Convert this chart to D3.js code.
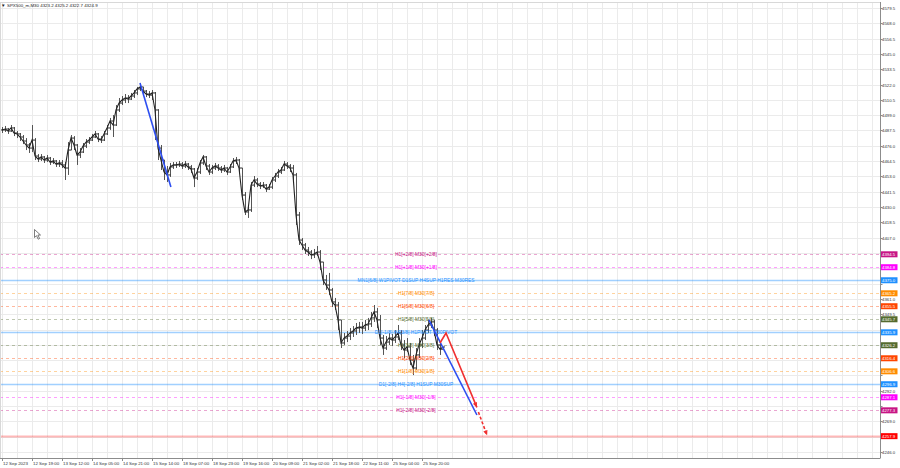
<!DOCTYPE html>
<html><head><meta charset="utf-8">
<script src="https://cdn.jsdelivr.net/npm/d3@7"></script>
<style>body{margin:0;background:#fff}svg{display:block}text{font-family:"Liberation Sans",Arial,sans-serif}</style>
</head><body>
<svg id="c" width="900" height="468"></svg>
<script>
// ---- data ----
const symbolTitle = "SPX500_m,M30  4323.2 4325.2 4322.7 4324.9";
const closes = [
4487.9,4488.6,4487.1,4489.4,4485.6,4484.9,4482.6,4479.6,4476.6,4474.3,
4480.3,4468.3,4466.1,4467.6,4465.3,4466.8,4463.8,4464.6,4462.3,4463.1,
4461.6,4459.3,4472.8,4481.8,4476.6,4469.1,4471.3,4475.8,4478.8,4480.3,
4482.6,4484.9,4481.1,4480.3,4484.9,4489.4,4494.6,4491.6,4502.9,4508.1,
4510.4,4511.9,4511.1,4513.4,4515.7,4518.7,4520.2,4517.1,4514.9,4514.1,
4515.7,4502.9,4474.3,4465.3,4456.3,4454.1,4460.1,4461.6,4461.6,4462.3,
4460.8,4462.3,4460.1,4458.6,4451.8,4456.3,4463.1,4467.6,4460.8,4456.3,
4459.3,4460.8,4459.3,4457.8,4459.3,4456.3,4460.1,4464.6,4465.3,4459.3,
4439.0,4426.3,4427.8,4446.5,4450.3,4447.3,4445.8,4446.5,4443.5,4445.0,
4450.3,4453.3,4456.3,4457.8,4462.3,4460.8,4459.3,4454.1,4424.0,4405.2,
4401.5,4397.7,4396.2,4394.0,4394.7,4396.2,4388.7,4375.2,4371.4,4367.7,
4358.7,4356.4,4345.2,4327.9,4331.6,4333.1,4335.4,4336.9,4339.1,4339.9,
4339.1,4341.4,4342.2,4346.7,4351.2,4345.2,4331.6,4324.1,4328.6,4331.6,
4330.1,4332.4,4335.4,4326.4,4322.6,4324.9,4315.1,4309.1,4318.9,4326.4,
4331.6,4337.6,4341.4,4343.7,4337.6,4326.4,4323.2,4324.9];
const highs = [
4490.1,4490.9,4489.4,4491.6,4490.1,4487.1,4485.6,4484.1,4481.8,4478.1,
4491.6,4481.8,4469.8,4469.8,4468.3,4469.1,4467.6,4466.8,4465.3,4465.3,
4465.3,4463.8,4478.8,4484.1,4483.3,4477.3,4474.3,4478.1,4481.1,4482.6,
4484.9,4487.1,4485.6,4483.3,4487.1,4491.6,4496.9,4499.1,4506.6,4511.9,
4513.4,4514.9,4514.1,4515.7,4517.9,4520.2,4523.2,4520.2,4517.9,4517.1,
4517.9,4516.4,4503.5,4476.6,4465.3,4460.8,4463.1,4463.8,4463.8,4464.6,
4463.8,4464.6,4463.1,4461.6,4459.3,4459.3,4465.3,4469.1,4468.3,4462.3,
4461.6,4463.1,4462.3,4460.8,4461.6,4460.1,4462.3,4466.8,4467.6,4466.1,
4459.3,4441.3,4431.5,4448.8,4453.3,4451.8,4448.8,4448.8,4447.3,4447.3,
4452.6,4455.6,4458.6,4460.1,4464.6,4463.8,4462.3,4461.6,4455.6,4426.3,
4406.7,4403.0,4400.0,4397.7,4398.5,4400.7,4397.7,4388.7,4379.0,4380.5,
4369.2,4361.7,4358.7,4345.2,4335.4,4336.9,4339.1,4340.6,4342.9,4343.7,
4343.7,4345.2,4346.7,4351.2,4356.4,4354.2,4348.9,4333.9,4333.1,4335.4,
4334.6,4337.6,4341.4,4337.6,4330.1,4331.6,4327.9,4318.9,4324.1,4331.6,
4337.6,4341.4,4345.2,4346.7,4345.2,4339.1,4328.6,4325.2];
const lows = [
4485.6,4486.4,4484.9,4486.4,4483.3,4481.8,4479.6,4477.3,4472.8,4470.6,
4471.3,4465.3,4463.8,4464.6,4463.1,4463.8,4461.6,4462.3,4460.1,4460.1,
4459.3,4450.3,4454.1,4472.8,4472.8,4461.6,4466.8,4470.6,4474.3,4477.3,
4479.6,4481.8,4478.8,4478.1,4479.6,4484.1,4487.9,4482.6,4490.9,4501.4,
4506.6,4508.1,4508.1,4510.4,4511.9,4514.1,4517.1,4514.9,4512.6,4511.9,
4510.4,4480.3,4465.3,4457.8,4450.3,4448.8,4452.6,4458.6,4459.3,4460.1,
4458.6,4459.3,4457.8,4455.6,4445.0,4450.3,4454.8,4461.6,4457.8,4454.1,
4454.8,4457.8,4457.1,4455.6,4456.3,4454.1,4455.6,4459.3,4462.3,4456.3,
4435.3,4424.0,4421.8,4426.3,4445.0,4445.0,4443.5,4444.3,4441.3,4442.8,
4443.5,4448.8,4451.8,4454.8,4457.1,4458.6,4456.3,4450.3,4416.5,4401.5,
4397.7,4394.7,4393.2,4390.9,4391.7,4393.2,4382.7,4371.4,4367.7,4363.9,
4354.9,4352.7,4337.6,4324.1,4326.4,4328.6,4330.1,4332.4,4333.9,4335.4,
4334.6,4336.9,4337.6,4339.9,4343.7,4339.1,4326.4,4318.9,4322.6,4326.4,
4325.6,4327.9,4330.1,4322.6,4316.6,4321.1,4311.3,4303.8,4307.6,4316.6,
4324.1,4330.1,4335.4,4339.1,4333.1,4322.6,4318.9,4322.7];

const timeLabels = ["12 Sep 2023","12 Sep 19:00","13 Sep 12:00","14 Sep 05:00","14 Sep 21:00",
"15 Sep 14:00","18 Sep 07:00","18 Sep 23:00","19 Sep 16:00","20 Sep 09:00","21 Sep 02:00",
"21 Sep 18:00","22 Sep 11:00","25 Sep 04:00","25 Sep 20:00"];
const timeLabelIndex = [0,10,20,30,40,50,60,70,80,90,100,110,120,130,140];

const priceTicks = [4246.0,4257.5,4269.0,4280.5,4292.0,4303.5,4315.0,4326.5,4338.0,4349.5,
4361.0,4372.5,4384.0,4395.5,4407.0,4418.5,4430.0,4441.5,4453.0,4464.5,4476.0,4487.5,
4499.0,4510.5,4522.0,4533.5,4545.0,4556.5,4568.0,4579.5];

const levelValues = [4394.5,4384.8,4375.0,4365.2,4355.5,4345.7,4335.9,4326.2,4316.4,4306.6,4296.9,4287.1,4277.3,4257.9];
const levelNames = ["H1[+2/8] M30[+2/8]","H1[+1/8] M30[+1/8]","MN1[6/8] W1PIVOT D1SUP H4SUP H1RES M30RES",
"H1[7/8] M30[7/8]","H1[6/8] M30[6/8]","H1[5/8] M30[5/8]","D1[-1/8] H4[3/8] H1PIVOT M30PIVOT",
"H1[3/8] M30[3/8]","H1[2/8] M30[2/8]","H1[1/8] M30[1/8]","D1[-2/8] H4[-2/8] H1SUP M30SUP",
"H1[-1/8] M30[-1/8]","H1[-2/8] M30[-2/8]",""];
const levelColors = ["#c71585","#ff00ff","#1e90ff","#ff8c00","#ff4500","#556b2f","#1e90ff",
"#556b2f","#ff4500","#ff8c00","#1e90ff","#ff00ff","#c71585","#ff0000"];
const levelSolid = [false,false,true,false,false,false,true,false,false,false,true,false,false,true];

// trend lines: [index, price]
const blueLine1 = [[46,4523.2],[56.3,4445.0]];
const blueLine2 = [[142.3,4345.2],[158.3,4273.8]];
const redPath = [[146,4327.9],[148,4335.4],[158.3,4279.5]];
const redDashed = [[158.8,4276.0],[161.7,4258.5]];

// ---- drawing ----
const plotR=880, plotB=458, plotT=2;
const svg=d3.select("#c");
const x=d3.scaleLinear().domain([0,292.67]).range([2,880]);
const y=d3.scaleLinear().domain([4579.5,4246.0]).range([8,452]);

// grid
const g=svg.append("g");
const vIdx=d3.range(0,293,5);
g.selectAll("line.v").data(vIdx).join("line")
 .attr("x1",d=>Math.round(x(d))+0.5).attr("x2",d=>Math.round(x(d))+0.5)
 .attr("y1",plotT).attr("y2",plotB).attr("stroke","#ebebeb").attr("stroke-width",1);
g.selectAll("line.h").data(priceTicks).join("line")
 .attr("x1",0).attr("x2",plotR).attr("y1",d=>Math.round(y(d))+0.5).attr("y2",d=>Math.round(y(d))+0.5)
 .attr("stroke","#ebebeb").attr("stroke-width",1);

// level lines
const lv=svg.append("g");
levelValues.forEach((v,i)=>{
  const yy=Math.round(y(v))+0.5;
  const ln=lv.append("line").attr("x1",0).attr("x2",plotR).attr("y1",yy).attr("y2",yy)
    .attr("stroke",levelColors[i]);
  if(levelSolid[i]){ ln.attr("stroke-width",i===13?2:1.6).attr("stroke-opacity",i===13?0.28:0.42);}
  else { ln.attr("stroke-width",1).attr("stroke-opacity",0.38).attr("stroke-dasharray","3,3");}
});

// bars
const bars=svg.append("g").attr("stroke","#2b2b2b").attr("stroke-width",1);
closes.forEach((c,i)=>{
  const xx=Math.round(x(i))+0.5;
  const o=i>0?closes[i-1]:c;
  bars.append("line").attr("x1",xx).attr("x2",xx).attr("y1",y(highs[i])).attr("y2",y(lows[i])).attr("stroke","#555");
  bars.append("line").attr("x1",xx-1.5).attr("x2",xx).attr("y1",y(o)).attr("y2",y(o));
  bars.append("line").attr("x1",xx).attr("x2",xx+1.5).attr("y1",y(c)).attr("y2",y(c));
});
svg.append("path").datum(closes).attr("fill","none").attr("stroke","#222").attr("stroke-width",1.1)
 .attr("d",d3.line().x((d,i)=>x(i)).y(d=>y(d)));

// level texts
const lt=svg.append("g").attr("font-size",4.9).attr("text-anchor","middle");
levelValues.forEach((v,i)=>{
  if(!levelNames[i]) return;
  lt.append("text").attr("x",416).attr("y",y(v)+1.8).attr("fill",levelColors[i]).text(levelNames[i]);
});

// trend lines
const ln=d3.line().x(d=>x(d[0])).y(d=>y(d[1]));
svg.append("path").datum(blueLine1).attr("d",ln).attr("stroke","#2d4ef0").attr("stroke-width",1.6).attr("fill","none");
svg.append("path").datum(blueLine2).attr("d",ln).attr("stroke","#2d4ef0").attr("stroke-width",1.6).attr("fill","none");
svg.append("path").datum(redPath).attr("d",ln).attr("stroke","#f03030").attr("stroke-width",1.6).attr("fill","none");
svg.append("path").datum(redDashed).attr("d",ln).attr("stroke","#f03030").attr("stroke-width",1.6).attr("fill","none").attr("stroke-dasharray","3,2");
function arrow(p0,p1){
  const x0=x(p0[0]),y0=y(p0[1]),x1=x(p1[0]),y1=y(p1[1]);
  const a=Math.atan2(y1-y0,x1-x0), L=5, Wd=2.2;
  const bx=x1-L*Math.cos(a), by=y1-L*Math.sin(a);
  svg.append("path").attr("fill","#f03030")
   .attr("d",`M${x1},${y1}L${bx+Wd*Math.sin(a)},${by-Wd*Math.cos(a)}L${bx-Wd*Math.sin(a)},${by+Wd*Math.cos(a)}Z`);
}
arrow(redPath[1],redPath[2]);
arrow(redDashed[0],redDashed[1]);

// frame
svg.append("line").attr("x1",plotR+0.5).attr("x2",plotR+0.5).attr("y1",plotT).attr("y2",plotB).attr("stroke","#8c8c8c");
svg.append("line").attr("x1",0).attr("x2",plotR+0.5).attr("y1",plotB+0.5).attr("y2",plotB+0.5).attr("stroke","#8c8c8c");
svg.append("line").attr("x1",0).attr("x2",plotR).attr("y1",plotT+0.5).attr("y2",plotT+0.5).attr("stroke","#d8d8d8");
svg.append("line").attr("x1",0.5).attr("x2",0.5).attr("y1",plotT).attr("y2",plotB).attr("stroke","#d8d8d8");

// y axis
const ya=svg.append("g").attr("font-size",4.3).attr("fill","#333");
priceTicks.forEach(v=>{
  const yy=Math.round(y(v))+0.5;
  ya.append("line").attr("x1",plotR).attr("x2",plotR+2.5).attr("y1",yy).attr("y2",yy).attr("stroke","#8c8c8c");
  const covered=levelValues.some(L=>Math.abs(y(L)-y(v))<4.6);
  if(!covered) ya.append("text").attr("x",882).attr("y",yy+1.6).text(v.toFixed(1));
});
// colored price labels
levelValues.forEach((v,i)=>{
  const yy=y(v);
  ya.append("rect").attr("x",881).attr("y",yy-3).attr("width",16.5).attr("height",6).attr("fill",levelColors[i]);
  ya.append("text").attr("x",882).attr("y",yy+1.6).attr("fill","#fff").text(v.toFixed(1));
});

// x axis
const xa=svg.append("g").attr("font-size",4.4).attr("fill","#333");
timeLabelIndex.forEach((k,j)=>{
  const xx=Math.round(x(k))+0.5;
  xa.append("line").attr("x1",xx).attr("x2",xx).attr("y1",plotB).attr("y2",plotB+3).attr("stroke","#8c8c8c");
  xa.append("text").attr("x",xx+0.5).attr("y",465).text(timeLabels[j]);
});

// title
svg.append("text").attr("x",1).attr("y",7).attr("font-size",4.6).attr("fill","#222").text("▼");
svg.append("text").attr("x",7).attr("y",7).attr("font-size",4.4).attr("fill","#222").text(symbolTitle);

// mouse cursor
svg.append("path").attr("d","M34.5,229.5L34.5,237.5L36.5,235.7L38.2,239.2L39.6,238.5L37.9,235L40.5,235Z")
 .attr("fill","#fff").attr("stroke","#444").attr("stroke-width",0.7);
</script>
</body></html>
